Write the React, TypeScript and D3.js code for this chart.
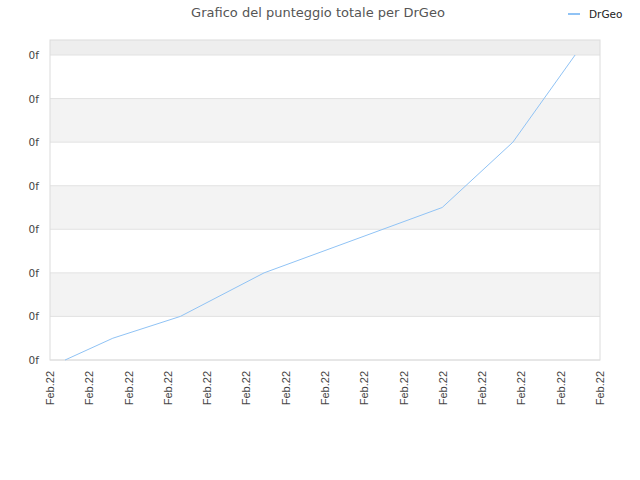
import * as d3 from 'd3';

// series: time of each score update (all on Feb 22) and the running total
const pointTimes = [
  new Date(2022, 1, 22, 0, 23),
  new Date(2022, 1, 22, 1, 36),
  new Date(2022, 1, 22, 3, 19),
  new Date(2022, 1, 22, 5, 27),
  new Date(2022, 1, 22, 9, 59),
  new Date(2022, 1, 22, 11, 47),
  new Date(2022, 1, 22, 13, 22),
];
const scores = [0, 0.5, 1, 2, 3.5, 5, 7];
const yTicks = [0, 1, 2, 3, 4, 5, 6, 7];
const yTickLabel = '0f';
const seriesName = 'DrGeo';
const title = 'Grafico del punteggio totale per DrGeo';

const WIDTH = 640;
const HEIGHT = 480;
const MARGIN = { top: 40, right: 40, bottom: 120, left: 50 };
const LINE_COLOR = '#90c3f5';

export default function App() {
  const boundsWidth = WIDTH - MARGIN.left - MARGIN.right;
  const boundsHeight = HEIGHT - MARGIN.top - MARGIN.bottom;

  const xScale = d3
    .scaleTime()
    .domain([new Date(2022, 1, 22, 0), new Date(2022, 1, 22, 14)])
    .range([0, boundsWidth]);
  const xTicks = xScale.ticks(d3.timeHour.every(1)!);
  const formatTick = d3.timeFormat('%b.%d');

  const yScale = d3
    .scaleLinear()
    .domain([0, 7])
    .range([boundsHeight, 15]);

  const line = d3
    .line<number>()
    .x((_, i) => xScale(pointTimes[i]))
    .y((d) => yScale(d));

  // alternating bands between ticks, plus the strip above the last tick
  const bandEdges = [...yTicks.map((t) => yScale(t)), 0];

  return (
    <svg width={WIDTH} height={HEIGHT} style={{ position: 'absolute', left: 0, top: 0 }}>
      <rect width={WIDTH} height={HEIGHT} fill="#fff" />
      <text
        x={318}
        y={17}
        textAnchor="middle"
        fontFamily="DejaVu Sans"
        fontSize={13}
        fill="#555"
      >
        {title}
      </text>
      <line x1={568} x2={580} y1={14} y2={14} stroke={LINE_COLOR} strokeWidth={2} />
      <text x={589} y={17.5} fontFamily="DejaVu Sans" fontSize={10.5} fill="#222">
        {seriesName}
      </text>

      <g transform={`translate(${MARGIN.left},${MARGIN.top})`}>
        {bandEdges.slice(0, -1).map((y0, i) => {
          const y1 = bandEdges[i + 1];
          if (i % 2 === 0) return null;
          return (
            <rect
              key={i}
              x={0}
              y={y1}
              width={boundsWidth}
              height={y0 - y1}
              fill={i === bandEdges.length - 2 ? '#eeeeee' : '#f3f3f3'}
            />
          );
        })}
        {yTicks.map((t) => (
          <g key={t}>
            <line x1={0} x2={boundsWidth} y1={yScale(t)} y2={yScale(t)} stroke="#e2e2e2" />
            <text
              x={-11}
              y={yScale(t) + 4}
              textAnchor="end"
              fontFamily="DejaVu Sans"
              fontSize={10.5}
              fill="#444"
            >
              {yTickLabel}
            </text>
          </g>
        ))}
        <rect x={0} y={0} width={boundsWidth} height={boundsHeight} fill="none" stroke="#dcdcdc" />
        <path d={line(scores) || ''} fill="none" stroke={LINE_COLOR} strokeWidth={1} />
        {xTicks.map((t, i) => (
          <text
            key={i}
            transform={`translate(${xScale(t) + 4},${boundsHeight + 11}) rotate(-90)`}
            textAnchor="end"
            fontFamily="Liberation Sans"
            fontSize={11}
            fill="#444"
          >
            {formatTick(t)}
          </text>
        ))}
      </g>
    </svg>
  );
}
